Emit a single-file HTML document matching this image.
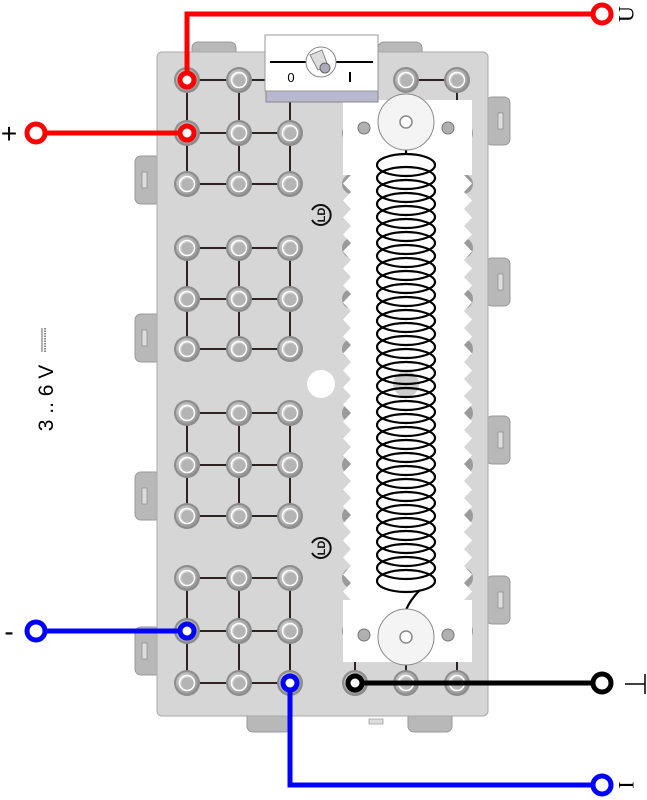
<!DOCTYPE html>
<html><head><meta charset="utf-8"><style>
html,body{margin:0;padding:0;background:#fff;width:647px;height:800px;overflow:hidden}
svg{display:block}
</style></head><body>
<svg width="647" height="800" viewBox="0 0 647 800" xmlns="http://www.w3.org/2000/svg">
<defs>
<radialGradient id="sg" cx="0.4" cy="0.4" r="0.7"><stop offset="0" stop-color="#e8e8e8"/><stop offset="1" stop-color="#8a8a8a"/></radialGradient>
<pattern id="zl" x="343" y="175" width="8" height="17" patternUnits="userSpaceOnUse"><polygon points="8,0 0,8.5 8,17" fill="#fff"/></pattern>
<pattern id="zr" x="464" y="175" width="8" height="17" patternUnits="userSpaceOnUse"><polygon points="0,0 8,8.5 0,17" fill="#fff"/></pattern>
<g id="sock"><circle r="13" fill="#8c8c8c"/><circle r="11" fill="url(#sg)"/><circle r="7.5" fill="none" stroke="#fff" stroke-width="1.5"/><circle r="5.5" fill="#b4b4b4"/></g>
<g id="tabL"><rect x="0" y="0" width="26" height="48" rx="6" fill="#b8b8b8" stroke="#999"/><rect x="7" y="16" width="5" height="16" fill="#ddd" stroke="#888" stroke-width="0.7"/></g>
<g id="tabR"><rect x="0" y="0" width="24" height="48" rx="6" fill="#b8b8b8" stroke="#999"/><rect x="12" y="16" width="5" height="16" fill="#ddd" stroke="#888" stroke-width="0.7"/></g>
<g id="tabT"><rect x="0" y="0" width="44" height="24" rx="6" fill="#b8b8b8" stroke="#999"/></g>
</defs>
<use href="#tabL" x="135" y="156"/><use href="#tabL" x="135" y="314"/><use href="#tabL" x="135" y="472"/><use href="#tabL" x="135" y="627"/>
<use href="#tabR" x="486" y="97"/><use href="#tabR" x="486" y="258"/><use href="#tabR" x="486" y="416"/><use href="#tabR" x="486" y="576"/>
<use href="#tabT" x="192" y="42"/><use href="#tabT" x="378" y="42"/>
<use href="#tabT" x="247" y="708"/><use href="#tabT" x="408" y="708"/>
<rect x="369" y="719" width="14" height="5" fill="#ddd" stroke="#888" stroke-width="0.6"/>
<rect x="157" y="52" width="331" height="664" rx="5" fill="#d6d6d6" stroke="#aaa"/>
<g stroke="#2e2222" stroke-width="2">
<path d="M187 80H290M187 133H290M187 184H290M187 80V184M239 80V184M290 80V184"/>
<path d="M187 248H290M187 299H290M187 349H290M187 248V349M239 248V349M290 248V349"/>
<path d="M187 413H290M187 465H290M187 516H290M187 413V516M239 413V516M290 413V516"/>
<path d="M187 578H290M187 631H290M187 683H290M187 578V683M239 578V683M290 578V683"/>
<path d="M355 683H457M406 80H457M457 80V110M355 662V683M406 662V683M457 662V683"/>
</g>
<g>
<use href="#sock" x="187" y="80"/><use href="#sock" x="239" y="80"/><use href="#sock" x="406" y="80"/><use href="#sock" x="457" y="80"/>
<use href="#sock" x="187" y="133"/><use href="#sock" x="239" y="133"/><use href="#sock" x="290" y="133"/>
<use href="#sock" x="187" y="184"/><use href="#sock" x="239" y="184"/><use href="#sock" x="290" y="184"/>
<use href="#sock" x="187" y="248"/><use href="#sock" x="239" y="248"/><use href="#sock" x="290" y="248"/>
<use href="#sock" x="187" y="299"/><use href="#sock" x="239" y="299"/><use href="#sock" x="290" y="299"/>
<use href="#sock" x="187" y="349"/><use href="#sock" x="239" y="349"/><use href="#sock" x="290" y="349"/>
<use href="#sock" x="187" y="413"/><use href="#sock" x="239" y="413"/><use href="#sock" x="290" y="413"/>
<use href="#sock" x="187" y="465"/><use href="#sock" x="239" y="465"/><use href="#sock" x="290" y="465"/>
<use href="#sock" x="187" y="516"/><use href="#sock" x="239" y="516"/><use href="#sock" x="290" y="516"/>
<use href="#sock" x="187" y="578"/><use href="#sock" x="239" y="578"/><use href="#sock" x="290" y="578"/>
<use href="#sock" x="187" y="631"/><use href="#sock" x="239" y="631"/><use href="#sock" x="290" y="631"/>
<use href="#sock" x="187" y="683"/><use href="#sock" x="239" y="683"/><use href="#sock" x="290" y="683"/>
<use href="#sock" x="355" y="683"/><use href="#sock" x="406" y="683"/><use href="#sock" x="457" y="683"/>
</g>
<g fill="#9a9a9a"><circle cx="352" cy="133" r="10"/><circle cx="352" cy="184" r="10"/><circle cx="352" cy="248" r="10"/><circle cx="352" cy="299" r="10"/><circle cx="352" cy="349" r="10"/><circle cx="352" cy="413" r="10"/><circle cx="352" cy="465" r="10"/><circle cx="352" cy="516" r="10"/><circle cx="352" cy="578" r="10"/><circle cx="352" cy="631" r="10"/>
<circle cx="463" cy="133" r="10"/><circle cx="463" cy="184" r="10"/><circle cx="463" cy="248" r="10"/><circle cx="463" cy="299" r="10"/><circle cx="463" cy="349" r="10"/><circle cx="463" cy="413" r="10"/><circle cx="463" cy="465" r="10"/><circle cx="463" cy="516" r="10"/><circle cx="463" cy="578" r="10"/><circle cx="463" cy="631" r="10"/></g>
<circle cx="321" cy="384" r="14" fill="#fff"/>
<g transform="translate(320,215) rotate(-90)" fill="none" stroke="#111" stroke-width="2"><path d="M-5 -8 A10 10 0 1 0 5 -8"/><text x="0" y="5" font-family="Liberation Sans" font-size="11" font-weight="bold" text-anchor="middle" fill="#111" stroke="none">LD</text></g>
<g transform="translate(320,548) rotate(-90)" fill="none" stroke="#111" stroke-width="2"><path d="M-5 -8 A10 10 0 1 0 5 -8"/><text x="0" y="5" font-family="Liberation Sans" font-size="11" font-weight="bold" text-anchor="middle" fill="#111" stroke="none">LD</text></g>
<rect x="351" y="100" width="113" height="562" fill="#fff"/>
<rect x="343" y="100" width="9" height="75" fill="#fff"/>
<rect x="343" y="600" width="9" height="62" fill="#fff"/>
<rect x="343" y="175" width="8" height="425" fill="url(#zl)"/>
<rect x="463" y="100" width="9" height="75" fill="#fff"/>
<rect x="463" y="600" width="9" height="62" fill="#fff"/>
<rect x="464" y="175" width="8" height="425" fill="url(#zr)"/>
<circle cx="406" cy="384" r="13" fill="#ccc"/>
<g fill="#b0b0b0" stroke="#777"><circle cx="364" cy="128" r="6"/><circle cx="448" cy="128" r="6"/><circle cx="364" cy="635" r="6"/><circle cx="448" cy="635" r="6"/></g>
<g fill="none" stroke="#000" stroke-width="2.2">
<ellipse cx="406" cy="165" rx="29" ry="11"/><ellipse cx="406" cy="178" rx="29" ry="11"/><ellipse cx="406" cy="191" rx="29" ry="11"/><ellipse cx="406" cy="204" rx="29" ry="11"/><ellipse cx="406" cy="217" rx="29" ry="11"/><ellipse cx="406" cy="230" rx="29" ry="11"/><ellipse cx="406" cy="243" rx="29" ry="11"/><ellipse cx="406" cy="256" rx="29" ry="11"/><ellipse cx="406" cy="269" rx="29" ry="11"/><ellipse cx="406" cy="282" rx="29" ry="11"/><ellipse cx="406" cy="295" rx="29" ry="11"/><ellipse cx="406" cy="308" rx="29" ry="11"/><ellipse cx="406" cy="321" rx="29" ry="11"/><ellipse cx="406" cy="334" rx="29" ry="11"/><ellipse cx="406" cy="347" rx="29" ry="11"/><ellipse cx="406" cy="360" rx="29" ry="11"/><ellipse cx="406" cy="373" rx="29" ry="11"/><ellipse cx="406" cy="386" rx="29" ry="11"/><ellipse cx="406" cy="399" rx="29" ry="11"/><ellipse cx="406" cy="412" rx="29" ry="11"/><ellipse cx="406" cy="425" rx="29" ry="11"/><ellipse cx="406" cy="438" rx="29" ry="11"/><ellipse cx="406" cy="451" rx="29" ry="11"/><ellipse cx="406" cy="464" rx="29" ry="11"/><ellipse cx="406" cy="477" rx="29" ry="11"/><ellipse cx="406" cy="490" rx="29" ry="11"/><ellipse cx="406" cy="503" rx="29" ry="11"/><ellipse cx="406" cy="516" rx="29" ry="11"/><ellipse cx="406" cy="529" rx="29" ry="11"/><ellipse cx="406" cy="542" rx="29" ry="11"/><ellipse cx="406" cy="555" rx="29" ry="11"/><ellipse cx="406" cy="568" rx="29" ry="11"/><ellipse cx="406" cy="581" rx="29" ry="11"/>
<path d="M406 155 V150 M420 590 Q410 600 406 610"/>
</g>
<circle cx="406" cy="122" r="28" fill="#f4f4f4" stroke="#888"/><circle cx="406" cy="122" r="6" fill="#fff" stroke="#888" stroke-width="1.5"/>
<circle cx="406" cy="637" r="28" fill="#f4f4f4" stroke="#888"/><circle cx="406" cy="637" r="6" fill="#fff" stroke="#888" stroke-width="1.5"/>
<rect x="266" y="88" width="112" height="14" fill="#b8b8d0" stroke="#888"/>
<rect x="265" y="35" width="113" height="56" fill="#fff" stroke="#999"/>
<line x1="270" y1="62" x2="373" y2="62" stroke="#000" stroke-width="2"/>
<circle cx="321" cy="62" r="15" fill="#fff" stroke="#888"/>
<path d="M310 55 L322 50 L328 66 L318 70 Z" fill="#ddd" stroke="#888"/>
<circle cx="325" cy="68" r="5" fill="#aab" stroke="#666"/>
<text x="291" y="82" font-family="Liberation Sans" font-size="13" text-anchor="middle">0</text>
<rect x="349" y="72" width="2" height="10" fill="#000"/>
<g fill="none" stroke-width="5">
<path d="M187 80 V14 H602" stroke="#f00"/>
<path d="M36 133 H187" stroke="#f00"/>
<path d="M36 631 H187" stroke="#00f"/>
<path d="M290 683 V785 H602" stroke="#00f"/>
<path d="M355 683 H602" stroke="#000"/>
</g>
<g fill="#fff" stroke-width="5">
<circle cx="187" cy="80" r="7" stroke="#f00"/><circle cx="187" cy="133" r="7" stroke="#f00"/>
<circle cx="602" cy="14" r="9" stroke="#f00"/><circle cx="36" cy="133" r="9" stroke="#f00"/>
<circle cx="187" cy="631" r="7" stroke="#00f"/><circle cx="36" cy="631" r="9" stroke="#00f"/>
<circle cx="290" cy="683" r="7" stroke="#00f"/><circle cx="602" cy="785" r="9" stroke="#00f"/>
<circle cx="355" cy="683" r="7" stroke="#000"/><circle cx="602" cy="683" r="9" stroke="#000"/>
</g>
<text x="9" y="143" font-family="Liberation Sans" font-size="28" text-anchor="middle">+</text>
<text x="9" y="641" font-family="Liberation Sans" font-size="28" text-anchor="middle">-</text>
<text transform="translate(53,398) rotate(-90)" font-family="Liberation Sans" font-size="21" text-anchor="middle">3 .. 6 V</text>
<line x1="45" y1="328" x2="45" y2="352" stroke="#888" stroke-width="2" stroke-dasharray="1.5 1"/>
<line x1="42" y1="328" x2="42" y2="352" stroke="#666" stroke-width="1"/>
<text transform="translate(626,14) rotate(-90)" font-family="Liberation Serif" font-size="22" text-anchor="middle" dominant-baseline="central">U</text>
<text transform="translate(626,785) rotate(-90)" font-family="Liberation Serif" font-size="22" text-anchor="middle" dominant-baseline="central">I</text>
<path d="M625 684 H645 M645 674 V694" stroke="#000" stroke-width="1.5" fill="none"/>
</svg>
</body></html>
